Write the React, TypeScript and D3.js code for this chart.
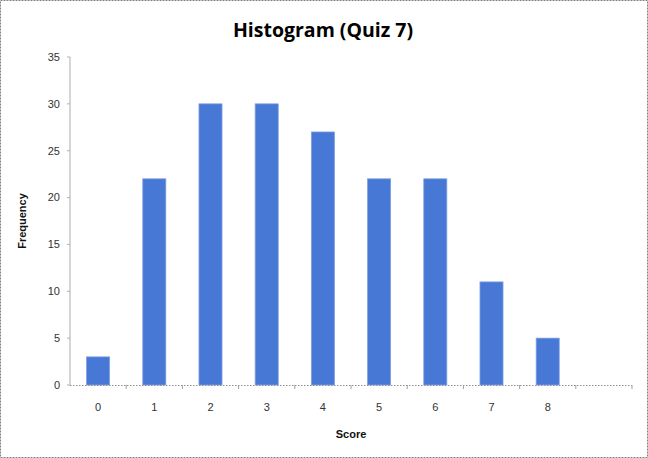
import * as d3 from "d3";

const scores = ["0", "1", "2", "3", "4", "5", "6", "7", "8", ""];
const frequency = [3, 22, 30, 30, 27, 22, 22, 11, 5, 0];
const yTicks = [0, 5, 10, 15, 20, 25, 30, 35];

const width = 648;
const height = 458;
const margin = { top: 57, right: 16, bottom: 73, left: 70 };

export default function App() {
  const innerWidth = width - margin.left - margin.right;
  const innerHeight = height - margin.top - margin.bottom;

  const xScale = d3
    .scaleBand()
    .domain(scores.map((s, i) => `${i}`))
    .range([0, innerWidth])
    .paddingInner(0.59)
    .paddingOuter(0.295);

  const bandScale = d3
    .scaleBand()
    .domain(scores.map((s, i) => `${i}`))
    .range([0, innerWidth]);

  const yScale = d3.scaleLinear().domain([0, 35]).range([innerHeight, 0]);

  return (
    <svg
      width={width}
      height={height}
      style={{ position: "absolute", left: 0, top: 0, display: "block" }}
      fontFamily="'Liberation Sans', Arial, sans-serif"
    >
      <rect x={0} y={0} width={width} height={height} fill="#fff" />
      <rect
        x={0.5}
        y={0.5}
        width={width - 1}
        height={height - 1}
        fill="none"
        stroke="#808080"
        strokeDasharray="2,1"
      />
      <text
        x={323}
        y={37}
        textAnchor="middle"
        fontSize="19.5"
        fontWeight="bold"
        fontFamily="'Open Sans', 'Noto Sans', sans-serif"
        fill="#000"
      >
        Histogram (Quiz 7)
      </text>

      <g transform={`translate(${margin.left},${margin.top})`}>
        {/* bars */}
        {frequency.map((f, i) =>
          f > 0 ? (
            <rect
              key={i}
              x={xScale(`${i}`)}
              y={yScale(f)}
              width={xScale.bandwidth()}
              height={innerHeight - yScale(f)}
              fill="#4778D5"
              stroke="#7D9FE0"
              strokeWidth={0.8}
            />
          ) : null
        )}

        {/* y axis */}
        <line x1={0} x2={0} y1={0} y2={innerHeight} stroke="#C8C8C8" strokeWidth={1.5} />
        {yTicks.map((t) => (
          <g key={t} transform={`translate(0,${yScale(t)})`}>
            <line x1={-3} x2={0} stroke="#B0B0B0" />
            <text
              x={-10}
              dy="0.35em"
              textAnchor="end"
              fontSize="11"
              fill="#333"
            >
              {t}
            </text>
          </g>
        ))}

        {/* x axis */}
        <line
          x1={0}
          x2={innerWidth}
          y1={innerHeight + 0.5}
          y2={innerHeight + 0.5}
          stroke="#909090"
          strokeDasharray="1.5,1.5"
        />
        {scores.map((s, i) => (
          <g key={i}>
            <line
              x1={(bandScale(`${i}`) || 0) + bandScale.bandwidth()}
              x2={(bandScale(`${i}`) || 0) + bandScale.bandwidth()}
              y1={innerHeight}
              y2={innerHeight + 4}
              stroke="#A0A0A0"
            />
            <text
              x={(bandScale(`${i}`) || 0) + bandScale.bandwidth() / 2}
              y={innerHeight + 26}
              textAnchor="middle"
              fontSize="11"
              fill="#333"
            >
              {s}
            </text>
          </g>
        ))}

        <text
          x={innerWidth / 2}
          y={innerHeight + 53}
          textAnchor="middle"
          fontSize="11"
          fontWeight="bold"
          fill="#111"
        >
          Score
        </text>
        <text
          transform={`translate(-44,${innerHeight / 2}) rotate(-90)`}
          textAnchor="middle"
          fontSize="11"
          fontWeight="bold"
          fill="#111"
        >
          Frequency
        </text>
      </g>
    </svg>
  );
}
